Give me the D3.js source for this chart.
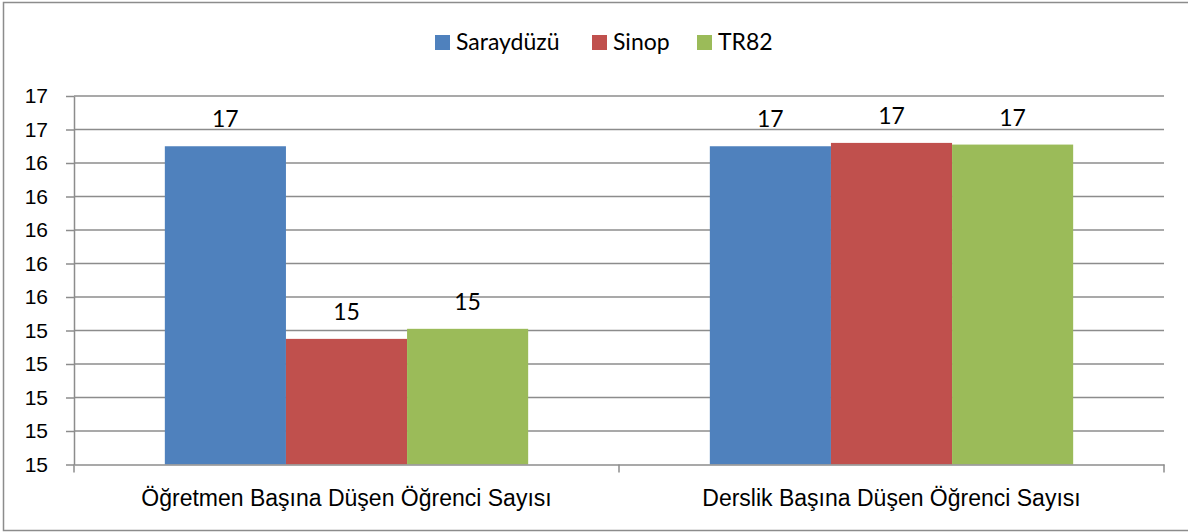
<!DOCTYPE html>
<meta charset="utf-8">
<style>
body { margin: 0; background: #fff; }
svg { display: block; font-family: Lato, "Open Sans", sans-serif; }
.grid line { stroke: #8c8c8c; stroke-width: 1.5px; }
.axis path, .axis line { stroke: #8c8c8c; stroke-width: 1.5px; }
.axis text { fill: #000; }
</style>
<svg width="1188" height="532"></svg>
<script src="https://d3js.org/d3.v7.min.js"></script>
<script>

var categories = ["Öğretmen Başına Düşen Öğrenci Sayısı", "Derslik Başına Düşen Öğrenci Sayısı"];
var seriesNames = ["Saraydüzü", "Sinop", "TR82"];
var saraydUzu = [16.50, 16.50];
var sinop = [15.35, 16.52];
var tr82 = [15.41, 16.51];
var yTicks = [14.6, 14.8, 15.0, 15.2, 15.4, 15.6, 15.8, 16.0, 16.2, 16.4, 16.6, 16.8];

var colors = ["#4F81BD", "#C0504D", "#9BBB59"];
var seriesValues = [saraydUzu, sinop, tr82];

var svg = d3.select("svg"),
    plotLeft = 74, plotRight = 1164, plotTop = 96, plotBottom = 464.5;

// outer border
svg.append("rect")
    .attr("x", 3.5).attr("y", 2.5)
    .attr("width", 1190).attr("height", 528)
    .attr("fill", "none")
    .attr("stroke", "#8c8c8c")
    .attr("stroke-width", 1.5);

var x0 = d3.scaleBand().domain(categories).range([plotLeft, plotRight]).paddingInner(0).paddingOuter(0);
var x1 = d3.scaleBand().domain(seriesNames)
    .range([0, x0.bandwidth()])
    .paddingInner(0)
    .paddingOuter(0.75);
var y = d3.scaleLinear().domain([14.6, 16.8]).range([plotBottom, plotTop]);

// gridlines
svg.append("g").attr("class", "grid")
  .selectAll("line")
  .data(yTicks.slice(1))
  .enter().append("line")
    .attr("x1", plotLeft).attr("x2", plotRight)
    .attr("y1", function(d) { return y(d); })
    .attr("y2", function(d) { return y(d); });

function rows(c, i) {
    return seriesNames.map(function(s, k) { return { s: s, v: seriesValues[k][i], k: k }; });
}

// bars
var groups = svg.append("g").selectAll("g")
    .data(categories)
    .enter().append("g")
    .attr("transform", function(d) { return "translate(" + x0(d) + ",0)"; });

groups.selectAll("rect")
    .data(rows)
    .enter().append("rect")
    .attr("x", function(d) { return x1(d.s); })
    .attr("width", x1.bandwidth())
    .attr("y", function(d) { return y(d.v); })
    .attr("height", function(d) { return plotBottom - y(d.v); })
    .attr("fill", function(d) { return colors[d.k]; });

groups.selectAll("text")
    .data(rows)
    .enter().append("text")
    .attr("x", function(d) { return x1(d.s) + x1.bandwidth() / 2; })
    .attr("y", function(d) { return y(d.v) - 19; })
    .attr("text-anchor", "middle")
    .style("font-size", "23px")
    .text(function(d) { return d3.format(".0f")(d.v); });

// y axis
var yAxis = svg.append("g").attr("class", "axis")
    .attr("transform", "translate(" + plotLeft + ",0)")
    .call(d3.axisLeft(y).tickValues(yTicks).tickFormat(d3.format(".0f")).tickSize(8).tickPadding(18).tickSizeOuter(0));
yAxis.selectAll("text").style("font-size", "21px");

// x axis
var xAxis = svg.append("g").attr("class", "axis")
    .attr("transform", "translate(0," + plotBottom + ")")
    .call(d3.axisBottom(x0).tickSize(0).tickSizeOuter(0).tickPadding(25));
xAxis.selectAll("text").style("font-size", "23px");
// category separators
xAxis.selectAll(".sep")
    .data([plotLeft, x0(categories[1]), plotRight])
    .enter().append("line")
    .attr("class", "sep")
    .attr("x1", function(d) { return d; }).attr("x2", function(d) { return d; })
    .attr("y1", 0).attr("y2", 8);

// legend
var legendX = [435, 592, 697];
var legend = svg.append("g").selectAll("g")
    .data(seriesNames)
    .enter().append("g")
    .attr("transform", function(d, i) { return "translate(" + legendX[i] + ",35)"; });
legend.append("rect")
    .attr("width", 15).attr("height", 15)
    .attr("fill", function(d, i) { return colors[i]; });
legend.append("text")
    .attr("x", 21).attr("y", 14.5)
    .style("font-size", "23px")
    .text(function(d) { return d; });

</script>
